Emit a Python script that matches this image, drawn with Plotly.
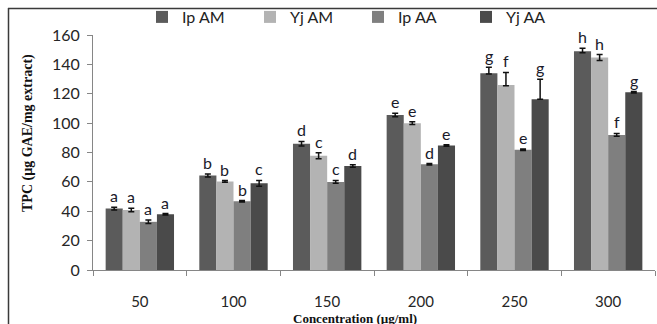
import plotly.graph_objects as go

categories = ["50", "100", "150", "200", "250", "300"]
series_names = ["Ip AM", "Yj AM", "Ip AA", "Yj AA"]
ip_am = [41.8, 64.3, 86.0, 105.5, 134.0, 149.0]
yj_am = [40.8, 60.3, 77.8, 100.0, 126.0, 144.7]
ip_aa = [32.8, 46.8, 60.0, 72.0, 81.8, 92.0]
yj_aa = [37.9, 59.0, 70.8, 84.7, 116.3, 121.0]
ip_am_err_plus = [1.0, 1.0, 1.5, 1.2, 4.0, 2.0]
ip_am_err_minus = [1.0, 1.0, 1.5, 1.2, 0.5, 1.0]
yj_am_err_plus = [1.2, 0.6, 2.0, 1.0, 8.5, 2.0]
yj_am_err_minus = [1.2, 0.6, 2.0, 1.0, 0.5, 2.0]
ip_aa_err_plus = [1.2, 0.5, 1.0, 0.5, 0.5, 1.0]
ip_aa_err_minus = [1.2, 0.5, 1.0, 0.5, 0.5, 1.0]
yj_aa_err_plus = [0.5, 2.0, 0.8, 0.5, 13.5, 0.5]
yj_aa_err_minus = [0.5, 2.0, 0.8, 0.5, 0.0, 0.5]
ip_am_letters = ["a", "b", "d", "e", "g", "h"]
yj_am_letters = ["a", "b", "c", "e", "f", "h"]
ip_aa_letters = ["a", "b", "c", "d", "e", "f"]
yj_aa_letters = ["a", "c", "d", "e", "g", "g"]
y_ticks = [0, 20, 40, 60, 80, 100, 120, 140, 160]

values = [ip_am, yj_am, ip_aa, yj_aa]
err_plus = [ip_am_err_plus, yj_am_err_plus, ip_aa_err_plus, yj_aa_err_plus]
err_minus = [ip_am_err_minus, yj_am_err_minus, ip_aa_err_minus, yj_aa_err_minus]
letters = [ip_am_letters, yj_am_letters, ip_aa_letters, yj_aa_letters]
colors = ["#5b5b5b", "#b3b3b3", "#7f7f7f", "#4a4a4a"]

BARGAP = 0.27
W, H = 657, 324
L, R, T, B = 93, 2, 35, 54

fig = go.Figure()
for name, v, ep, em, c in zip(series_names, values, err_plus, err_minus, colors):
    fig.add_trace(go.Bar(
        name=name, x=categories, y=v, marker=dict(color=c, line=dict(width=0)),
        error_y=dict(type="data", symmetric=False, array=ep, arrayminus=em,
                     color="#111111", thickness=1.5, width=3),
    ))

n = len(series_names)
bw = (1 - BARGAP) / n
annotations = []
for j in range(n):
    for i in range(len(categories)):
        annotations.append(dict(
            x=i + (j - (n - 1) / 2) * bw, y=values[j][i] + err_plus[j][i],
            xref="x", yref="y", text=letters[j][i], showarrow=False,
            yanchor="bottom", yshift=0,
            font=dict(family="Lato", size=16, color="#1a1a2a"),
        ))

pw = W - L - R
ph = H - T - B
def px_x(p):
    return (p - L) / pw
def px_y(p):
    return (H - B - p) / ph

annotations.append(dict(
    x=px_x(28), y=px_y(133), xref="paper", yref="paper", textangle=-90,
    text="<b>TPC (µg GAE/mg extract)</b>", showarrow=False,
    xanchor="center", yanchor="middle",
    font=dict(family="Liberation Serif", size=14, color="#111111"),
))
annotations.append(dict(
    x=px_x(355), y=px_y(309), xref="paper", yref="paper",
    text="<b>Concentration (µg/ml)</b>", showarrow=False,
    xanchor="center", yanchor="top",
    font=dict(family="Liberation Serif", size=13, color="#111111"),
))

frame = dict(color="#3a3a3a", width=1.5)
fig.update_layout(
    width=W, height=H,
    margin=dict(l=L, r=R, t=T, b=B, pad=0, autoexpand=False),
    paper_bgcolor="white", plot_bgcolor="white",
    barmode="group", bargap=BARGAP, bargroupgap=0,
    showlegend=True,
    legend=dict(orientation="h", xref="container", yref="container",
                x=142 / W, y=1.0, xanchor="left", yanchor="top",
                entrywidth=63, entrywidthmode="pixels",
                font=dict(family="Lato", size=16, color="#222222"),
                itemwidth=30, bgcolor="rgba(0,0,0,0)"),
    annotations=annotations,
    shapes=[
        dict(type="line", xref="paper", yref="paper",
             x0=px_x(8), x1=px_x(W + 5), y0=px_y(8.5), y1=px_y(8.5), line=frame, layer="above"),
        dict(type="line", xref="paper", yref="paper",
             x0=px_x(8.5), x1=px_x(8.5), y0=px_y(8), y1=px_y(H + 5), line=frame, layer="above"),
    ],
)
fig.update_xaxes(
    type="category", showgrid=False, showline=True, linecolor="#868686", linewidth=1,
    ticks="outside", tickson="boundaries", ticklen=5, tickcolor="#868686",
    ticklabelstandoff=18,
    tickfont=dict(family="Lato", size=15, color="#262626"),
)
fig.update_yaxes(
    range=[0, 160], tickvals=y_ticks, showgrid=False, showline=True,
    linecolor="#868686", linewidth=1, ticks="outside", ticklen=5, tickcolor="#868686",
    ticklabelstandoff=4,
    tickfont=dict(family="Lato", size=16, color="#262626"), zeroline=False,
)
fig.write_html("out.html", config={"displayModeBar": False},
               post_script="document.body.style.margin='0';")
